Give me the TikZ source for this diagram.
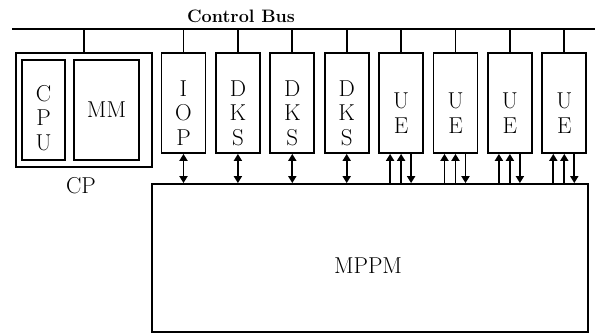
\documentclass[tikz,border=0pt]{standalone}
\usepackage{tikz}
\usetikzlibrary{arrows.meta,positioning,calc}

\begin{document}
\begin{tikzpicture}[x=1pt,y=-1pt,
  box/.style={draw, line width=1.8pt, minimum width=44pt, minimum height=100pt, inner sep=0pt},
  lbl/.style={font=\fontsize{23}{24.5}\selectfont, align=center, inner sep=0pt},
  link/.style={line width=1.8pt},
  tip/.style={-{Triangle[width=8pt,length=7pt]}},
  both/.style={{Triangle[width=8pt,length=7pt]}-{Triangle[width=8pt,length=7pt]}}]
\useasboundingbox (0,0) rectangle (595,335);

% control bus
\coordinate (busL) at (12,29);
\coordinate (busR) at (595,29);
\draw[link] (busL) -- (busR);
\node[font=\fontsize{18}{20}\selectfont\bfseries, inner sep=0pt] (ctl) at (241,16) {Control Bus};

% CP with CPU and MM
\node[box, minimum width=136pt, minimum height=114pt] (cp) at (84,110) {};
\node[box, minimum width=43pt] (cpu) at (43.5,110) {};
\node[box, minimum width=65pt] (mm) at (106.5,110) {};
\node[lbl] (cpulbl) at (43.5,118) {C\\P\\U};
\node[lbl] (mmlbl) at (106.5,110) {MM};
\node[lbl] (cplbl) at (81,186) {CP};
\draw[link] (cp.north) -- (cp.north |- busL);

% MPPM
\node[box, minimum width=436pt, minimum height=148pt] (mppm) at (370,258) {};
\node[lbl] (mppmlbl) at (368,266) {MPPM};

% units on the bus
\foreach \i/\t [evaluate=\i as \x using 129.1+54.4*\i] in
  {1/{I\\O\\P},2/{D\\K\\S},3/{D\\K\\S},4/{D\\K\\S},5/{U\\E},6/{U\\E},7/{U\\E},8/{U\\E}} {
  \node[box] (u\i) at (\x,103) {};
  \node[lbl] (t\i) at ($(u\i.center)+(0,10)$) {\t};
  \draw[link] (u\i.north) -- (u\i.north |- busL);
}

% links to MPPM
\foreach \i in {1,...,4}
  \draw[link,both] (u\i.south) -- (u\i.south |- mppm.north);
\foreach \i in {5,...,8} {
  \coordinate (a\i) at ($(u\i.south)+(-11,0)$);
  \coordinate (b\i) at (u\i.south);
  \coordinate (c\i) at ($(u\i.south)+(10,0)$);
  \draw[link,tip] (a\i |- mppm.north) -- (a\i);
  \draw[link,tip] (b\i |- mppm.north) -- (b\i);
  \draw[link,tip] (c\i) -- (c\i |- mppm.north);
}
\end{tikzpicture}
\end{document}
